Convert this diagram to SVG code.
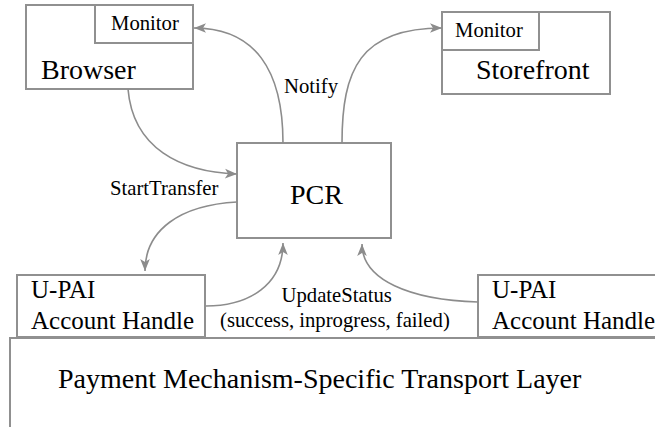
<svg xmlns="http://www.w3.org/2000/svg" width="655" height="427" viewBox="0 0 655 427">
<style>
.box{fill:#fff;stroke:#909090;stroke-width:2}
.big{font-family:"Liberation Serif","Times New Roman",serif;font-size:28px;fill:#000}
.mid{font-family:"Liberation Serif","Times New Roman",serif;font-size:25px;fill:#000}
.small{font-family:"Liberation Serif","Times New Roman",serif;font-size:20.7px;fill:#000}
.conn{fill:none;stroke:#8c8c8c;stroke-width:1.6}
</style>
<defs>
<marker id="arr" markerUnits="userSpaceOnUse" viewBox="-13 -6 14 12" refX="0" refY="0" markerWidth="14" markerHeight="12" orient="auto">
<path d="M0,0 L-12,-4.8 L-9,0 L-12,4.8 Z" fill="#8c8c8c"/>
</marker>
</defs>
<rect width="655" height="427" fill="#fff"/>
<g id="browser">
<rect class="box" x="26" y="5" width="167" height="84"/>
<rect class="box" x="95" y="5" width="98" height="38"/>
<text class="small" x="111" y="30">Monitor</text>
<text class="big" x="41" y="79">Browser</text>
</g>
<g id="storefront">
<rect class="box" x="442" y="12" width="168" height="82"/>
<rect class="box" x="442" y="12" width="97" height="38"/>
<text class="small" x="455" y="37">Monitor</text>
<text class="big" x="476" y="79">Storefront</text>
</g>
<g id="pcr">
<rect class="box" x="237" y="143" width="154" height="95"/>
<text class="big" x="290" y="204">PCR</text>
</g>
<g id="upai-left">
<rect class="box" x="17" y="275" width="188" height="62"/>
<text class="mid" x="31" y="297.5">U-PAI</text>
<text class="mid" x="31" y="329">Account Handle</text>
</g>
<g id="upai-right">
<rect class="box" x="478" y="275" width="220" height="62"/>
<text class="mid" x="492" y="297.5">U-PAI</text>
<text class="mid" x="492" y="329">Account Handle</text>
</g>
<g id="transport">
<rect class="box" x="10" y="338" width="700" height="200"/>
<text class="big" x="58" y="388">Payment Mechanism-Specific Transport Layer</text>
</g>
<g id="connectors">
<path class="conn" marker-end="url(#arr)" d="M128,89 C133,148 180,172 237,174"/>
<path class="conn" marker-end="url(#arr)" d="M283,143 C283,70 255,28 194,28"/>
<path class="conn" marker-end="url(#arr)" d="M342,143 C342,70 360,28 442,28"/>
<path class="conn" marker-end="url(#arr)" d="M237,202 C180,205 145,230 145,271"/>
<path class="conn" marker-end="url(#arr)" d="M206,306 C250,306 283,284 283,243"/>
<path class="conn" marker-end="url(#arr)" d="M478,302 C410,300 362,280 362,244"/>
<text class="small" x="284" y="93">Notify</text>
<text class="small" x="110" y="195">StartTransfer</text>
<text class="small" x="281.5" y="301.5">UpdateStatus</text>
<text class="small" x="220" y="327">(success, inprogress, failed)</text>
</g>
</svg>
